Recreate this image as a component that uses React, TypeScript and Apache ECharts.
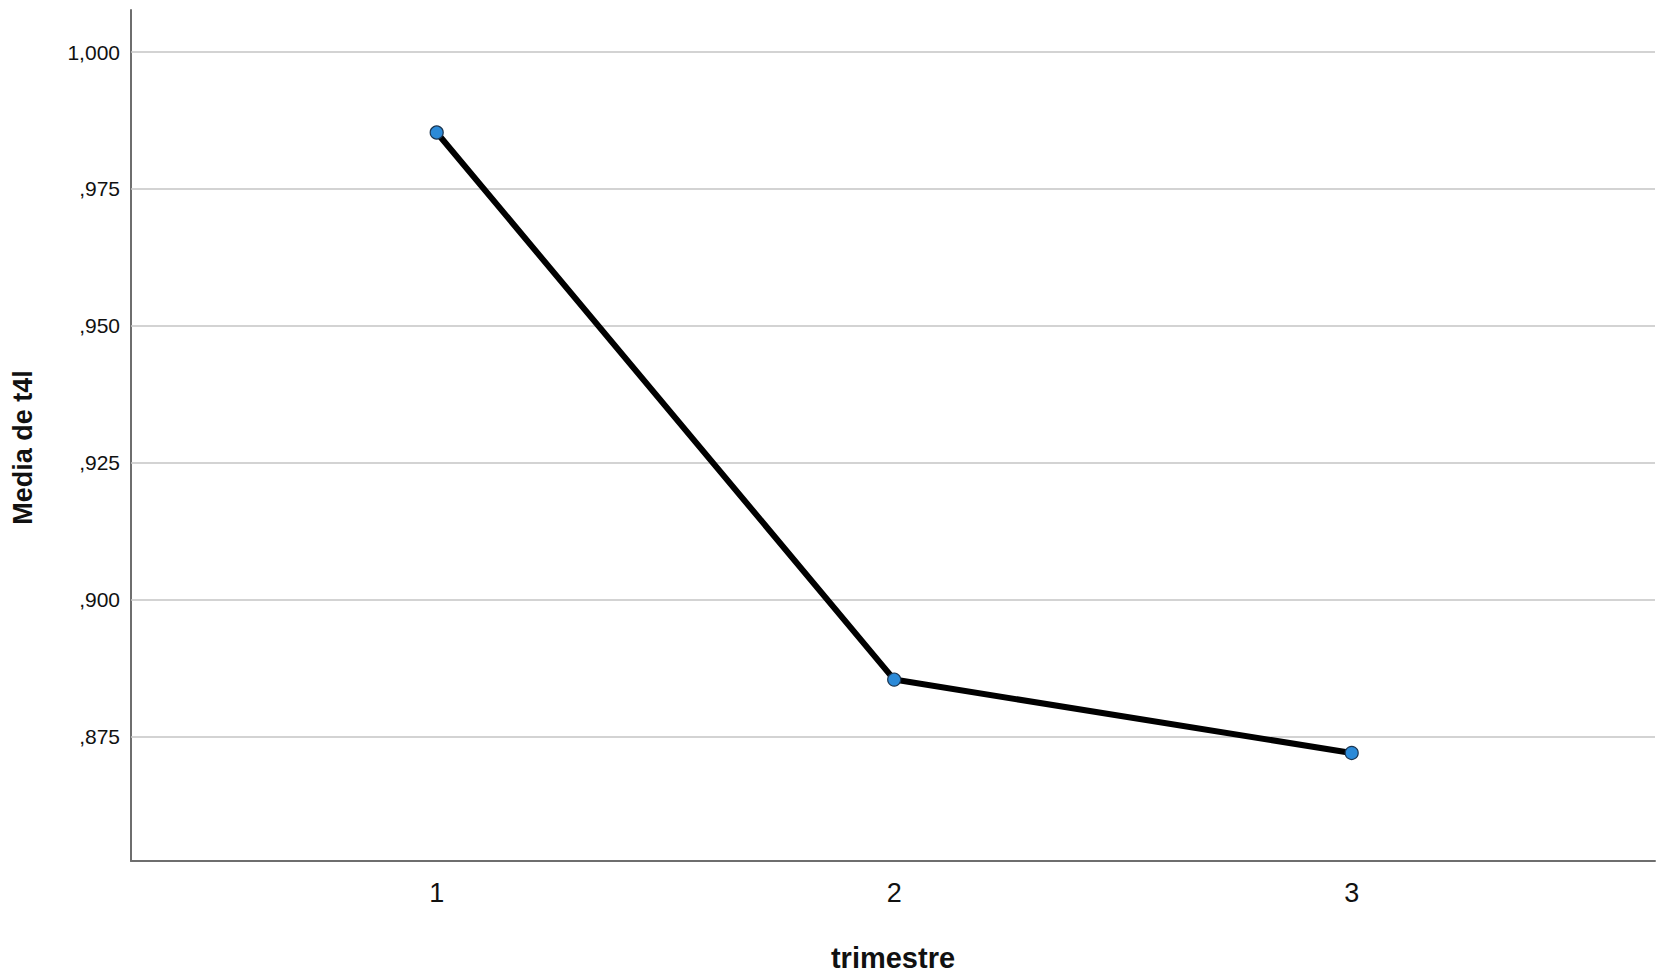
import React, { useEffect, useRef } from "react";
import * as echarts from "echarts";

const categories: number[] = [1, 2, 3];
const meanValues: number[] = [0.9853, 0.8854, 0.872];
const yTickValues: number[] = [0.875, 0.9, 0.925, 0.95, 0.975, 1.0];
const xTitle = "trimestre";
const yTitle = "Media de t4l";

const FONT = "'Liberation Sans', Arial, sans-serif";

function fmtY(v: number): string {
  return v.toFixed(3).replace(".", ",").replace(/^0/, "");
}

export default function App() {
  const ref = useRef<HTMLDivElement>(null);
  useEffect(() => {
    if (!ref.current) return;
    const chart = echarts.init(ref.current, null, { renderer: "svg" });
    chart.setOption({
      animation: false,
      backgroundColor: "#ffffff",
      grid: { left: 131, right: 20, top: 10, bottom: 117, containLabel: false },
      xAxis: {
        type: "value",
        min: 0.3318,
        max: 3.663,
        name: xTitle,
        nameLocation: "middle",
        nameGap: 82,
        nameTextStyle: { fontFamily: FONT, fontSize: 29, fontWeight: "bold", color: "#111" },
        axisLine: { show: true, lineStyle: { color: "#6e6e6e", width: 2 } },
        axisTick: { show: false, customValues: categories },
        splitLine: { show: false },
        axisLabel: {
          customValues: categories,
          showMinLabel: true,
          showMaxLabel: true,
          margin: 18,
          fontFamily: FONT,
          fontSize: 27,
          color: "#111",
          formatter: (v: number) => String(v),
        },
      },
      yAxis: {
        type: "value",
        min: 0.85227,
        max: 1.00767,
        name: yTitle,
        nameLocation: "middle",
        nameGap: 95,
        nameTextStyle: {
          fontFamily: FONT,
          fontSize: 27,
          fontWeight: "bold",
          color: "#111",
          padding: [0, 24, 0, 0],
        },
        axisLine: { show: true, lineStyle: { color: "#6e6e6e", width: 2 } },
        axisTick: { show: false, customValues: yTickValues },
        splitLine: { show: false },
        axisLabel: {
          customValues: yTickValues,
          margin: 11,
          fontFamily: FONT,
          fontSize: 21,
          color: "#111",
          padding: [7, 0, 0, 0],
          formatter: (v: number) => fmtY(v),
        },
      },
      series: [
        {
          type: "line",
          data: categories.map((c, i) => [c, meanValues[i]]),
          symbol: "circle",
          symbolSize: 13,
          lineStyle: { color: "#000000", width: 6 },
          itemStyle: { color: "#2b8ad8", borderColor: "#1b3550", borderWidth: 1.2 },
          z: 3,
          markLine: {
            z: 1,
            silent: true,
            precision: 4,
            symbol: "none",
            label: { show: false },
            lineStyle: { color: "#c4c4c4", width: 1.6, type: "solid" },
            data: yTickValues.map((v) => ({ yAxis: v })),
          },
        },
      ],
    });
    return () => chart.dispose();
  }, []);
  return (
    <div
      ref={ref}
      style={{ position: "fixed", left: 0, top: 0, width: 1675, height: 978, background: "#fff" }}
    />
  );
}
